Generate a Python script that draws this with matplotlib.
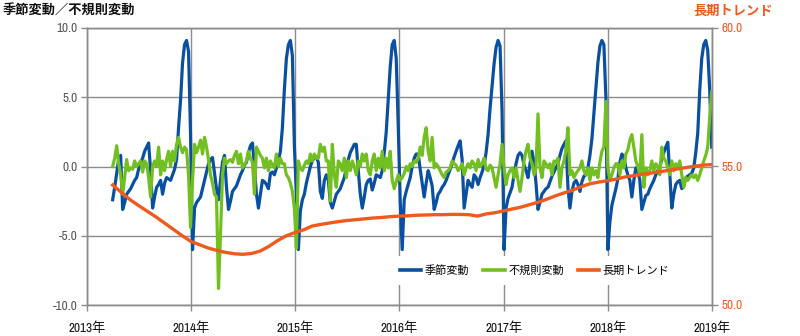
import pandas as pd
import matplotlib
matplotlib.use('Agg')
import matplotlib.pyplot as plt

plt.rcParams['font.family'] = ['Archivo Narrow', 'Noto Sans CJK JP', 'DejaVu Sans']

# weekly seasonal component (Monday weeks), one list per year
seasonal_2013 = [-2.4, -1.5, -0.5, 0.5, 0.8, -3.1, -2.6, -2.0, -1.8, -1.6,
                 -1.3, -1.0, -0.8, -0.2, 0.3, 0.6, 1.1, 1.4, 1.7, -0.3,
                 -3.0, -2.2, -1.5, -1.3, -1.0, -2.0, -1.2, -0.8, -0.9, -1.0,
                 -0.6, -0.2, 0.5, 2.8, 4.8, 7.5, 8.8, 9.1, 8.3, 2.3]
seasonal_2014 = [-6.0, -3.0, -2.6, -2.4, -2.2, -1.6, -1.0, -0.4, 0.2, 0.5,
                 0.65, -0.5, -1.6, -2.4, -1.0, 0.3, 0.8, -1.5, -3.1, -2.5,
                 -1.8, -1.6, -1.4, -1.0, -0.6, -0.3, 0.1, 0.3, 1.0, 1.5,
                 1.7, 0.0, -2.0, -3.0, -2.0, -1.0, -1.1, -1.3, -1.6, -0.5,
                 -0.4, -0.6, -0.1, 0.4, 1.1, 2.8, 5.6, 7.8, 8.8, 9.1,
                 8.0, 1.5]
seasonal_2015 = [-2.0, -6.0, -3.2, -2.4, -2.0, -1.2, -0.6, 0.0, 0.4, 0.65,
                 0.7, 0.3, -1.8, -2.3, -1.0, -0.6, -1.0, -2.6, -3.0, -2.5,
                 -2.0, -1.8, -1.6, -1.2, -0.8, -0.1, 0.5, 1.0, 1.3, 1.6,
                 1.6, -0.3, -2.0, -3.0, -2.2, -1.3, -1.0, -0.9, -1.7, -1.2,
                 -0.6, -0.7, -0.8, -0.3, 1.0, 2.5, 4.8, 7.2, 8.8, 9.1,
                 7.8, 3.0]
seasonal_2016 = [-2.5, -6.0, -2.4, -1.8, -1.3, -0.8, 0.0, 0.6, 0.9, 0.9,
                 -0.2, -1.2, -2.2, -1.2, -0.3, -0.8, -1.4, -3.1, -2.6, -2.0,
                 -1.8, -1.5, -1.3, -1.0, -0.6, -0.2, 0.2, 0.7, 1.1, 1.5,
                 1.85, 0.5, -3.0, -2.0, -1.0, -1.3, -1.5, -0.6, -0.8, -1.3,
                 -0.8, -0.4, 0.1, 1.0, 2.3, 4.2, 5.8, 7.4, 8.6, 9.1,
                 8.7, 4.0]
seasonal_2017 = [-6.0, -3.0, -2.3, -1.9, -1.5, -0.6, 0.2, 0.8, 1.0, 0.8,
                 0.1, -0.3, -0.8, 0.2, 1.1, 0.3, -1.2, -3.1, -2.6, -2.0,
                 -1.8, -1.6, -1.5, -1.1, -0.7, -0.4, -0.1, 0.2, 0.8, 1.3,
                 1.6, 1.85, -1.5, -3.0, -1.8, -1.2, -1.0, -1.3, -1.8, -1.1,
                 -0.7, -0.6, -0.1, 0.8, 2.0, 3.8, 5.6, 7.5, 8.7, 9.1,
                 8.8, 5.0]
seasonal_2018 = [-6.0, -4.0, -2.8, -2.2, -1.6, -0.9, 0.3, 0.9, 0.7, -0.1,
                 -0.6, -1.0, -2.2, -1.0, -0.1, -0.3, -1.0, -3.1, -2.6, -2.1,
                 -2.0, -1.6, -1.3, -1.0, -0.6, -0.3, 0.0, 0.5, 1.0, 1.4,
                 1.75, -0.5, -3.0, -2.0, -1.3, -1.1, -1.0, -1.6, -1.4, -0.8,
                 -0.7, -0.6, -0.5, -0.1, 1.0, 2.4, 5.5, 7.8, 8.8, 9.1,
                 8.4, 5.5, 1.4]

# weekly irregular component
irregular_2013 = [0.0, 0.6, 1.5, 0.2, -0.6, -2.0, -0.8, 0.5, -0.3, -0.1,
                  -0.2, 0.4, 0.0, 0.2, 0.4, -0.4, 0.4, 0.2, -0.8, -2.2,
                  0.0, 0.4, 0.0, 1.4, -0.6, 0.4, -0.3, 0.5, 1.1, 0.0,
                  1.1, 0.4, 1.6, 2.1, 1.4, 1.0, 1.4, 1.2, -0.6, -4.4]
irregular_2014 = [-1.0, 1.6, 1.0, 1.4, 1.9, 0.9, 2.1, 1.4, 0.5, -0.6,
                  -1.2, -2.0, -2.2, -8.8, -4.9, -0.6, 0.6, 0.2, 0.4, 0.5,
                  0.3, 0.8, 1.1, 0.2, 0.9, -0.1, 0.1, 0.4, 1.1, 0.6,
                  0.3, -2.0, 1.4, 1.1, 0.8, 0.6, -0.1, 0.6, -0.3, 0.4,
                  0.1, -0.1, 0.9, 0.0, 0.6, 0.2, 0.2, -0.6, -0.8, -1.2,
                  -1.8, -3.0]
irregular_2015 = [-5.9, 0.4, -0.1, -0.3, 0.1, 0.4, 0.2, 0.9, 0.4, 0.9,
                  0.6, 0.6, 1.6, 1.1, 1.4, 0.4, 0.4, -2.5, 1.6, -0.6,
                  -1.5, 0.4, 0.2, -0.3, 0.6, -0.8, 0.4, -0.3, 0.4, 0.0,
                  -0.6, 0.4, 0.0, 0.9, 0.4, 0.9, -0.3, -0.6, 0.4, 0.9,
                  -0.3, 0.6, -0.1, 1.1, -0.3, 0.6, -0.1, 1.1, -1.0, -1.6,
                  -1.1, -0.6]
irregular_2016 = [-1.0, -0.8, -0.5, 0.0, -0.3, 0.2, 0.0, 0.4, 0.3, 0.6,
                  1.4, 0.8, 2.1, 2.8, 1.1, 0.4, 2.1, -0.1, 0.2, 0.0,
                  -0.3, -0.6, -0.8, -0.4, -0.3, -0.1, 0.4, 0.2, 0.1, -0.3,
                  -0.1, 0.2, -0.6, -0.1, 0.2, -0.1, 0.4, 0.2, -0.3, 0.5,
                  0.0, 0.2, 0.6, -0.2, -0.3, 0.1, -0.1, -0.8, -1.5, -0.6,
                  0.2, 1.6]
irregular_2017 = [-0.1, -1.3, -0.6, -0.3, -0.1, -0.8, -0.1, -1.0, -1.8, -0.8,
                  0.4, 1.1, 1.6, 0.6, 0.2, -0.6, -0.1, 3.8, -0.1, -0.8,
                  0.4, 0.2, -0.1, 0.2, -0.6, 0.4, 0.3, 0.6, -1.5, -0.1,
                  0.4, 1.2, 2.8, -0.6, -0.3, -0.8, -0.5, -0.3, -0.1, 0.4,
                  -0.3, -0.6, -0.1, -1.0, -0.1, -0.6, -0.3, -0.8, 0.3, 1.1,
                  1.4, 4.7]
irregular_2018 = [-0.1, -1.0, -0.6, -0.1, 0.2, 0.2, -0.6, 0.4, -0.1, 0.9,
                  1.2, 1.9, 2.3, 1.4, 0.4, 0.0, -0.6, 2.3, -1.5, -0.1,
                  -0.6, -0.3, 0.4, -0.3, 0.2, 0.0, -0.6, 1.4, 0.6, 0.4,
                  -0.1, -0.6, 0.4, -0.3, 0.2, -0.1, 0.4, -0.6, -1.5, -0.8,
                  -1.0, -0.8, -0.6, -0.8, -0.6, -1.0, -0.6, -0.1, 0.4, 0.8,
                  1.4, 3.6, 5.4]

# monthly long-term trend (right axis)
trend = [54.33, 54.07, 53.80, 53.59, 53.38, 53.17, 52.95, 52.72, 52.50,
         52.29, 52.17, 52.06, 51.97, 51.90, 51.85, 51.83, 51.86, 51.95, 52.12, 52.33, 52.50,
         52.62, 52.72, 52.85, 52.91, 52.96, 53.01, 53.05, 53.08, 53.11, 53.14, 53.16, 53.19,
         53.21, 53.22, 53.24, 53.25, 53.26, 53.26, 53.27, 53.27, 53.26, 53.21, 53.29, 53.33,
         53.40, 53.47, 53.53, 53.62, 53.71, 53.82, 53.94, 54.05, 54.15, 54.28, 54.38, 54.44,
         54.49, 54.55, 54.62, 54.67, 54.72, 54.76, 54.81, 54.86, 54.91, 54.96, 55.01, 55.05,
         55.07]

years = ['2013', '2014', '2015', '2016', '2017', '2018', '2019']
year_labels = [y + '年' for y in years]
left_ticks = [-10, -5, 0, 5, 10]
right_ticks = [50, 55, 60]

seasonal = seasonal_2013 + seasonal_2014 + seasonal_2015 + seasonal_2016 + seasonal_2017 + seasonal_2018
irregular = irregular_2013 + irregular_2014 + irregular_2015 + irregular_2016 + irregular_2017 + irregular_2018

seasonal_dates = pd.date_range('2013-04-01', periods=len(seasonal), freq='7D')
irregular_dates = pd.date_range('2013-04-01', periods=len(irregular), freq='7D')
trend_dates = pd.date_range('2013-04-01', periods=len(trend), freq='MS')

BLUE = '#0a50a1'
GREEN = '#72bf21'
ORANGE = '#ef5a1d'
GRID = '#8c8c8c'

fig = plt.figure(figsize=(8, 3.36), dpi=100)
ax1 = fig.add_axes([87 / 800, 31 / 336, 625 / 800, 277 / 336])
ax2 = ax1.twinx()

l1, = ax1.plot(seasonal_dates, seasonal, color=BLUE, lw=2.3, solid_joinstyle='round')
l2, = ax1.plot(irregular_dates, irregular, color=GREEN, lw=2.3, solid_joinstyle='round')
l3, = ax2.plot(trend_dates, trend, color=ORANGE, lw=2.4)

ax1.set_xlim(pd.Timestamp('2013-01-01'), pd.Timestamp('2019-01-01'))
ax1.set_ylim(-10, 10)
ax2.set_ylim(50, 60)

ax1.set_xticks([pd.Timestamp(y + '-01-01') for y in years])
ax1.set_xticklabels(year_labels)
ax1.set_yticks(left_ticks)
ax1.set_yticklabels(['%.1f' % v for v in left_ticks])
ax2.set_yticks(right_ticks)
ax2.set_yticklabels(['%.1f' % v for v in right_ticks])

ax1.grid(True, color=GRID, lw=1)
ax1.set_axisbelow(True)
for ax in (ax1, ax2):
    for s in ax.spines.values():
        s.set_color(GRID)
        s.set_linewidth(1)

ax1.tick_params(axis='x', length=4, color=GRID, width=1, pad=8, labelsize=9.5, labelcolor='#111111')
ax1.tick_params(axis='y', length=4, color=GRID, width=1, pad=3, labelsize=9.5, labelcolor='#555555')
ax2.tick_params(axis='y', length=4, color=GRID, width=1, pad=3, labelsize=9.5, labelcolor=ORANGE)

leg = ax2.legend([l1, l2, l3], ['季節変動', '不規則変動', '長期トレンド'],
                 loc='center', bbox_to_anchor=(0.716, 0.125), ncol=3,
                 frameon=True, fancybox=False, edgecolor='none', facecolor='white', framealpha=1,
                 handlelength=1.95, handletextpad=0.3, columnspacing=1.25,
                 borderpad=0.8, prop={'family': ['Noto Sans CJK JP'], 'size': 8})
for h in leg.get_lines():
    h.set_linewidth(2.6)

fig.text(0.003, 0.967, '季節変動／不規則変動', ha='left', va='center', fontsize=9.5,
         fontweight='bold', family=['Noto Sans CJK JP'], color='#111111')
fig.text(0.916, 0.967, '長期トレンド', ha='center', va='center', fontsize=9.5,
         fontweight='bold', family=['Noto Sans CJK JP'], color=ORANGE)

fig.savefig('out.png', dpi=100)
